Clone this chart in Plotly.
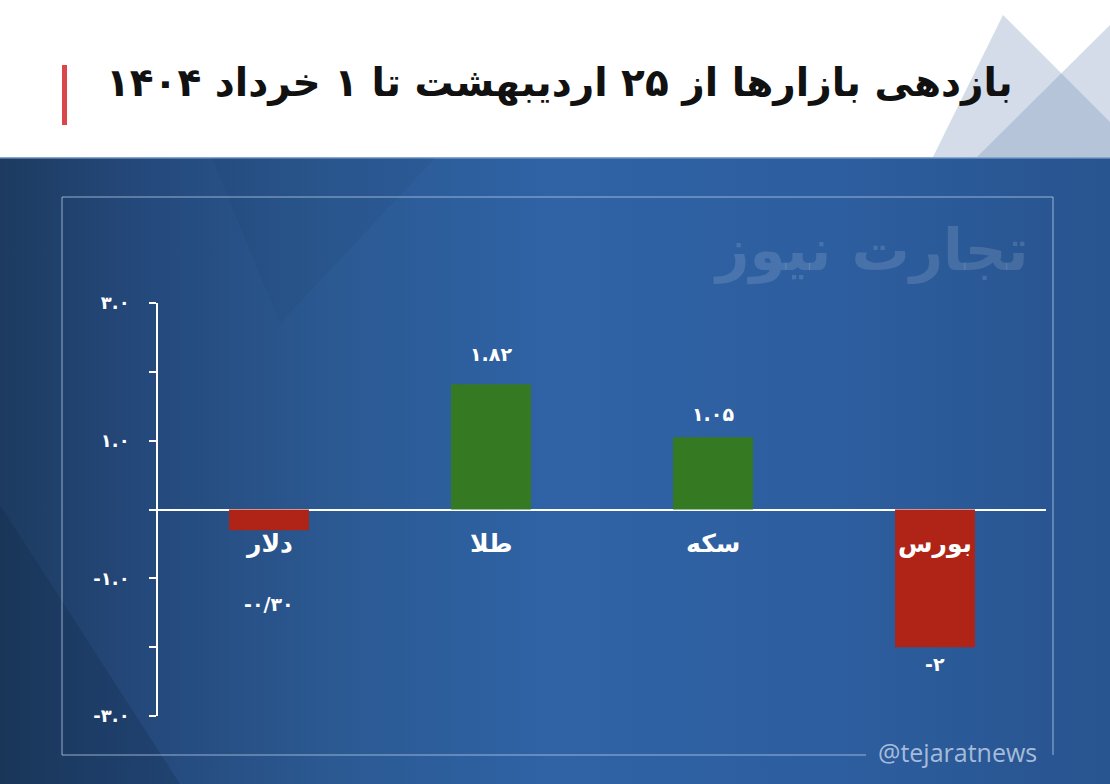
import base64
import plotly.graph_objects as go

# data
title = "بازدهی بازارها از ۲۵ اردیبهشت تا ۱ خرداد ۱۴۰۴"
markets = ["دلار", "طلا", "سکه", "بورس"]
returns = [-0.30, 1.82, 1.05, -2.00]
return_labels = ["-۰/۳۰", "۱.۸۲", "۱.۰۵", "-۲"]
y_ticks = [-3, -2, -1, 0, 1, 2, 3]
y_tick_labels = ["-۳.۰", "", "-۱.۰", "", "۱.۰", "", "۳.۰"]

W, H = 1110, 784
FONT = "DejaVu Sans"


def px(x):
    return x / W


def py(y):
    return 1 - y / H


# background: white header band, corner triangles, blue gradient
svg = """<svg xmlns="http://www.w3.org/2000/svg" width="1110" height="784" viewBox="0 0 1110 784" preserveAspectRatio="none">
<defs><linearGradient id="g" x1="0" y1="0" x2="1" y2="0">
<stop offset="0" stop-color="#1d3b60"/>
<stop offset="0.12" stop-color="#24487a"/>
<stop offset="0.3" stop-color="#2b5992"/>
<stop offset="0.5" stop-color="#2f63a6"/>
<stop offset="0.75" stop-color="#2d5e9f"/>
<stop offset="1" stop-color="#28548f"/>
</linearGradient></defs>
<rect x="0" y="0" width="1110" height="157" fill="#ffffff"/>
<polygon points="1003,15 933,157 1110,157 1110,122" fill="#7896b9" fill-opacity="0.33"/>
<polygon points="1110,25 977,157 1110,157" fill="#7896b9" fill-opacity="0.33"/>
<rect x="0" y="157" width="1110" height="627" fill="url(#g)"/>
<rect x="0" y="157" width="1110" height="1.5" fill="#86a8cf"/>
<polygon points="212,158 435,158 280,323" fill="#16345f" fill-opacity="0.08"/>
<polygon points="0,505 0,784 180,784" fill="#0f2645" fill-opacity="0.25"/>
</svg>"""
bg_src = "data:image/svg+xml;base64," + base64.b64encode(svg.encode("utf-8")).decode()

colors = ["#357a22" if v >= 0 else "#b02418" for v in returns]

fig = go.Figure(go.Bar(
    x=markets,
    y=returns,
    marker=dict(color=colors, line=dict(width=0)),
    width=0.36,
    hoverinfo="skip",
))

frame = "rgba(190,210,235,0.75)"
shapes = [
    dict(type="rect", xref="paper", yref="paper", x0=px(62), x1=px(67), y0=py(125), y1=py(65),
         fillcolor="#d9474a", line=dict(width=0)),
    dict(type="line", xref="paper", yref="paper", x0=px(62), x1=px(1053), y0=py(197), y1=py(197),
         line=dict(color=frame, width=1)),
    dict(type="line", xref="paper", yref="paper", x0=px(62), x1=px(62), y0=py(197), y1=py(755),
         line=dict(color=frame, width=1)),
    dict(type="line", xref="paper", yref="paper", x0=px(1053), x1=px(1053), y0=py(197), y1=py(755),
         line=dict(color=frame, width=1)),
    dict(type="line", xref="paper", yref="paper", x0=px(62), x1=px(866), y0=py(755), y1=py(755),
         line=dict(color=frame, width=1)),
]

annotations = [
    dict(text=title, xref="paper", yref="paper", x=px(1015), y=py(83), xanchor="right", yanchor="middle",
         showarrow=False, font=dict(family=FONT, size=39, color="#111111", weight="bold")),
    dict(text="تجارت نیوز", xref="paper", yref="paper", x=px(870), y=py(250), xanchor="center",
         yanchor="middle", showarrow=False,
         font=dict(family=FONT, size=58, color="rgba(255,255,255,0.13)", weight="bold")),
    dict(text="@tejaratnews", xref="paper", yref="paper", x=px(957), y=py(752), xanchor="center",
         yanchor="middle", showarrow=False,
         font=dict(family="Open Sans", size=25, color="rgba(200,215,235,0.8)")),
]

# market names sit just under the zero line
for name in markets:
    annotations.append(dict(text=name, x=name, y=-0.5, xref="x", yref="y", showarrow=False,
                            font=dict(family=FONT, size=25, color="white", weight="bold")))

# value labels, pixel offsets from the bar end
label_shift = [-74, 30, 23, -17]
for name, v, lab, s in zip(markets, returns, return_labels, label_shift):
    annotations.append(dict(text=lab, x=name, y=v, yshift=s, xref="x", yref="y", showarrow=False,
                            font=dict(family=FONT, size=19, color="white", weight="bold")))

fig.update_layout(
    width=W,
    height=H,
    autosize=False,
    margin=dict(l=0, r=0, t=0, b=0, pad=0, autoexpand=False),
    paper_bgcolor="#2a5894",
    plot_bgcolor="rgba(0,0,0,0)",
    showlegend=False,
    images=[dict(source=bg_src, xref="paper", yref="paper", x=0, y=1, sizex=1, sizey=1,
                 xanchor="left", yanchor="top", sizing="stretch", layer="below")],
    shapes=shapes,
    annotations=annotations,
    xaxis=dict(
        domain=[px(158), px(1046)],
        range=[-0.5, 3.5],
        visible=False,
        automargin=False,
    ),
    yaxis=dict(
        domain=[py(716), py(303)],
        range=[-3, 3],
        automargin=False,
        tickvals=y_ticks,
        ticktext=y_tick_labels,
        ticks="outside",
        ticklen=7,
        tickwidth=1.5,
        tickcolor="white",
        showline=True,
        linecolor="white",
        linewidth=1.5,
        showgrid=False,
        zeroline=True,
        zerolinecolor="white",
        zerolinewidth=1.5,
        ticklabelstandoff=16,
        tickfont=dict(family=FONT, size=18, color="white", weight="bold"),
    ),
)

# page body has a default 8px margin; drop it so the chart fills the window
fig.write_html("out.html", config={"displayModeBar": False},
               post_script="document.body.style.margin = '0';")
